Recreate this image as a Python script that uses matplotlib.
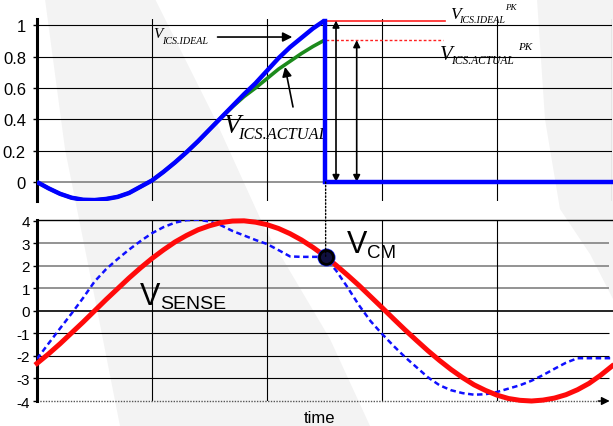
import matplotlib
matplotlib.use("Agg")
import matplotlib.pyplot as plt
import numpy as np
from matplotlib.patches import ConnectionPatch, Polygon

plt.rcParams['font.family'] = ['Liberation Sans', 'DejaVu Sans']

# top plot: ICS voltage rising until the sample point, then reset
t_rise = np.linspace(0, 2.5, 26)
v_ideal = [0, -0.04, -0.075, -0.10, -0.113, -0.115, -0.108, -0.095, -0.07, -0.03,
           0.01, 0.065, 0.125, 0.19, 0.26, 0.335, 0.41, 0.485, 0.56, 0.63,
           0.71, 0.79, 0.86, 0.92, 0.98, 1.03]
v_actual = [0, -0.04, -0.075, -0.10, -0.113, -0.115, -0.108, -0.095, -0.07, -0.03,
            0.01, 0.065, 0.125, 0.19, 0.26, 0.335, 0.41, 0.48, 0.545, 0.60,
            0.66, 0.72, 0.77, 0.82, 0.865, 0.905]
t_reset = [2.5, 2.5, 5.0]
v_reset = [1.03, 0, 0]
top_ticks = [1, 0.8, 0.6, 0.4, 0.2, 0]
top_labels = ["1", "0.8", "0.6", "0.4", "0.2", "0"]

# bottom plot: sense voltage and common mode
t = np.linspace(0, 5, 51)
v_sense = [-2.33, -1.91, -1.46, -0.98, -0.50, 0.0, 0.50, 0.98, 1.46, 1.91,
           2.33, 2.71, 3.06, 3.35, 3.60, 3.78, 3.92, 3.99, 4.00, 3.94,
           3.83, 3.66, 3.43, 3.15, 2.82, 2.45, 2.03, 1.59, 1.13, 0.64,
           0.15, -0.35, -0.84, -1.31, -1.77, -2.20, -2.60, -2.96, -3.28, -3.53,
           -3.74, -3.89, -3.97, -4.00, -3.96, -3.87, -3.72, -3.50, -3.22, -2.86, -2.45]
v_dash = [-2.13, -1.45, -0.78, -0.12, 0.57, 1.3, 1.85, 2.3, 2.72, 3.1,
          3.45, 3.72, 3.92, 4.03, 4.05, 3.97, 3.8, 3.55, 3.35, 3.15,
          2.97, 2.7, 2.42, 2.4, 2.4, 2.4, 1.8, 1.05, 0.25, -0.45,
          -1.02, -1.55, -2.05, -2.5, -2.95, -3.3, -3.52, -3.65, -3.72, -3.7,
          -3.6, -3.45, -3.3, -3.1, -2.85, -2.57, -2.3, -2.1, -2.1, -2.1, -2.1]
t_cm, v_cm = 2.51, 2.4
bot_ticks = [4, 3, 2, 1, 0, -1, -2, -3, -4]
bot_labels = ["4", "3", "2", "1", "0", "-1", "-2", "-3", "-4"]

W, H = 613, 427
fig = plt.figure(figsize=(W/100, H/100), dpi=100)

# faint watermark shapes in the background
def px(pts):
    return [(x/W, 1 - y/H) for x, y in pts]
fig.add_artist(Polygon(px([(45, 0), (155, 0), (215, 120), (265, 230), (330, 340), (370, 427),
                           (120, 427), (95, 300), (65, 150)]),
                       closed=True, fc='#f3f3f3', ec='none', zorder=-5))
fig.add_artist(Polygon(px([(537, 0), (613, 0), (613, 300), (590, 255), (560, 210), (545, 120)]),
                       closed=True, fc='#f3f3f3', ec='none', zorder=-5))

ax1 = fig.add_axes([37/W, 1-202/H, 575/W, 182/H])
ax2 = fig.add_axes([37/W, 1-402/H, 575/W, 181.3/H])
ax1.patch.set_alpha(0)
ax2.patch.set_alpha(0)

# ---- top axes
ax1.set_xlim(0, 5)
ax1.set_ylim(-0.121, 1.04)
for s in ['top', 'right', 'bottom']:
    ax1.spines[s].set_visible(False)
ax1.spines['left'].set_linewidth(2.2)
ax1.set_xticks([])
ax1.set_yticks(top_ticks, top_labels)
ax1.tick_params(axis='y', length=3, width=1, pad=5, labelsize=12)
ax1.hlines(top_ticks[:-1], 0, 5, color='black', lw=0.8, zorder=1)
ax1.axhline(0, color='#808080', lw=1.2, zorder=1)
for x in [1, 2, 3, 4, 5]:
    ax1.axvline(x, color='black', lw=0.8, zorder=1)

ax1.plot(t_rise, v_actual, color='#1c8a1c', lw=2.6, zorder=3)
ax1.plot(t_rise, v_ideal, color='#0000ff', lw=3.2, zorder=4, solid_capstyle='butt')
ax1.plot(t_reset, v_reset, color='#0000ff', lw=3.2, zorder=4, clip_on=False,
         solid_joinstyle='miter')

# peak markers
ax1.plot([2.5, 3.55], [1.03, 1.03], color='#ff2020', lw=1.2, zorder=2, clip_on=False)
ax1.plot([2.51, 3.53], [0.905, 0.905], color='#ff2020', lw=1.0, ls=(0, (2, 1.5)), zorder=2)
arr = dict(arrowstyle='<|-|>', color='black', lw=1.2, mutation_scale=10, shrinkA=0, shrinkB=0)
ax1.annotate('', xy=(2.60, 0), xytext=(2.60, 1.03), arrowprops=arr, annotation_clip=False)
ax1.annotate('', xy=(2.78, 0), xytext=(2.78, 0.905), arrowprops=arr)
one = dict(arrowstyle='-|>', color='black', lw=1.2, mutation_scale=14, shrinkA=0, shrinkB=0)
ax1.annotate('', xy=(2.22, 0.925), xytext=(1.57, 0.925), arrowprops=one)
ax1.annotate('', xy=(2.157, 0.734), xytext=(2.226, 0.479), arrowprops=one)

serif = dict(family=['Liberation Serif', 'DejaVu Serif'], style='italic', va='baseline')
ax1.text(1.01, 0.925, 'V', fontsize=11, **serif)
ax1.text(1.085, 0.89, 'ICS.IDEAL', fontsize=7.2, **serif)
ax1.text(1.625, 0.319, 'V', fontsize=20, **serif)
ax1.text(1.748, 0.281, 'ICS.ACTUAL', fontsize=11.8, **serif)
ax1.text(3.59, 1.047, 'V', fontsize=12.5, **serif)
ax1.text(3.67, 1.023, 'ICS.IDEAL', fontsize=7.2, **serif)
ax1.text(4.07, 1.104, 'PK', fontsize=6.5, **serif)
ax1.text(3.50, 0.785, 'V', fontsize=15, **serif)
ax1.text(3.60, 0.759, 'ICS.ACTUAL', fontsize=8.3, **serif)
ax1.text(4.18, 0.849, 'PK', fontsize=8, **serif)

# ---- bottom axes
ax2.set_xlim(0, 5)
ax2.set_ylim(-4, 4.05)
for s in ['right', 'bottom']:
    ax2.spines[s].set_visible(False)
ax2.spines['top'].set_linewidth(1.0)
ax2.spines['left'].set_linewidth(2.2)
ax2.set_xticks([])
ax2.set_yticks(bot_ticks, bot_labels)
ax2.tick_params(axis='y', length=3, width=1, pad=2, labelsize=11)
ax2.hlines([3, 2, 1], 0, 4.97, color='#8a8a8a', lw=1.3, zorder=1)
ax2.hlines([-1, -2, -3], 0, 4.97, color='black', lw=0.8, zorder=1)
ax2.plot([0, 5.02], [0, 0], color='black', lw=1.2, zorder=1, clip_on=False)
for x in [1, 2, 3, 4]:
    ax2.axvline(x, color='black', lw=0.8, zorder=1)
ax2.plot([0, 4.93], [-4, -4], color='#555555', lw=1.0, ls=(0, (1, 1)), zorder=2, clip_on=False)
ax2.annotate('', xy=(4.98, -4), xytext=(4.88, -4),
             arrowprops=dict(arrowstyle='-|>', color='black', lw=1, mutation_scale=12,
                             shrinkA=0, shrinkB=0), annotation_clip=False)

ax2.plot(t, v_dash, color='#1010ff', lw=1.8, ls=(0, (2.2, 1.4)), zorder=3)
ax2.plot(t, v_sense, color='#ff0a0a', lw=3.6, zorder=4, clip_on=False)
ax2.plot([t_cm], [v_cm], 'o', ms=12, mfc='#0000a0', mec='#2030ff', mew=1, zorder=6)
ax2.plot([t_cm], [v_cm], 'o', ms=10, mfc='#101040', mec='black', mew=2, zorder=7)

ax2.text(0.896, 0.31, 'V', fontsize=22, va='baseline')
ax2.text(1.07, 0.133, 'SENSE', fontsize=14, va='baseline')
ax2.text(2.696, 2.62, 'V', fontsize=22, va='baseline')
ax2.text(2.87, 2.40, 'CM', fontsize=13.5, va='baseline')

con = ConnectionPatch(xyA=(t_cm, 0), coordsA=ax1.transData,
                      xyB=(t_cm, v_cm), coordsB=ax2.transData,
                      color='black', lw=1, ls=(0, (1, 1.5)), zorder=5)
fig.add_artist(con)

fig.text(320/W, 1-423/H, 'time', ha='center', va='baseline', fontsize=12)

fig.savefig('out.png', dpi=100)
